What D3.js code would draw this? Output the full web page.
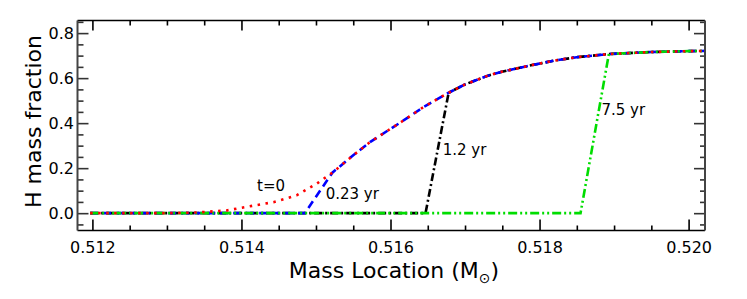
<!DOCTYPE html>
<html>
<head>
<meta charset="utf-8">
<script src="https://cdn.jsdelivr.net/npm/d3@7"></script>
<style>
  body { margin: 0; background: #fff; }
  svg text { font-family: "DejaVu Sans", sans-serif; }
</style>
</head>
<body>
<div id="chart"></div>
<script>
// H mass fraction profiles vs mass location
var t0Mass = [0.51197, 0.5130, 0.5134, 0.5138, 0.51405, 0.51443, 0.51474, 0.51501, 0.51522];
var t0H    = [0.0,     0.0,    0.003,  0.012,  0.027,   0.049,   0.079,   0.131,   0.18];

// common upper profile shared by all epochs once the front has passed
var mainMass = [0.51522, 0.5155, 0.51573, 0.51618, 0.51645, 0.51678, 0.5170, 0.5173, 0.51748, 0.5179, 0.5182, 0.5185, 0.51893, 0.5195, 0.5200, 0.52023];
var mainH    = [0.18,    0.257,  0.317,   0.413,   0.473,   0.535,   0.572,  0.610,  0.627,   0.658,  0.678,  0.693,  0.707,   0.716,  0.720,  0.721];

var blueMass  = [0.51197, 0.51485, 0.51522];
var blueH     = [0.0,     0.0,     0.18];
var blackMass = [0.51197, 0.51647, 0.51678];
var blackH    = [0.0,     0.0,     0.535];
var greenMass = [0.51197, 0.51855, 0.51893];
var greenH    = [0.0,     0.0,     0.707];

var xMajor = [0.512, 0.514, 0.516, 0.518, 0.520];
var yMajor = [0.0, 0.2, 0.4, 0.6, 0.8];

var labels = [
  {text: "t=0",     m: 0.51421, h: 0.100},
  {text: "0.23 yr", m: 0.51513, h: 0.062},
  {text: "1.2 yr",  m: 0.51670, h: 0.258},
  {text: "7.5 yr",  m: 0.51883, h: 0.436}
];

var width = 747, height = 299;
var plotLeft = 77.5, plotRight = 705, plotTop = 20.5, plotBottom = 230.5;

var x = d3.scaleLinear().domain([0.5118, 0.52022]).range([plotLeft, plotRight]);
var y = d3.scaleLinear().domain([-0.077, 0.856]).range([plotBottom, plotTop]);

var svg = d3.select("#chart").append("svg")
    .attr("width", width).attr("height", height);

function zip(ms, hs) { return ms.map((m, i) => [m, hs[i]]); }
function withMain(ms, hs) {
    var last = ms[ms.length - 1];
    return zip(ms, hs).concat(zip(mainMass, mainH).filter(d => d[0] > last));
}

var series = [
  {data: withMain(blackMass, blackH), color: "#000000", dash: "8,3,2,3"},
  {data: withMain(blueMass, blueH),   color: "#0000ff", dash: "8,5"},
  {data: withMain(greenMass, greenH), color: "#00dd00", dash: "9,3,2,3,2,3"},
  {data: withMain(t0Mass, t0H),       color: "#ff0000", dash: "2.5,5.5"}
];

var line = d3.line().x(d => x(d[0])).y(d => y(d[1]));

svg.append("g").selectAll("path").data(series).enter().append("path")
    .attr("d", d => line(d.data))
    .attr("fill", "none")
    .attr("stroke", d => d.color)
    .attr("stroke-width", 2.6)
    .attr("stroke-dasharray", d => d.dash);

// minor ticks
var xMinor = d3.range(0.512, 0.52021, 0.0005).filter(v => xMajor.every(m => Math.abs(m - v) > 1e-6));
var yMinor = d3.range(-0.05, 0.851, 0.05).filter(v => yMajor.every(m => Math.abs(m - v) > 1e-6));

function styleAxis(g, col) {
    g.attr("font-size", 16).attr("font-family", "DejaVu Sans, sans-serif");
    g.select(".domain").remove();
    g.selectAll(".tick line").attr("stroke", col).attr("stroke-width", 1.6);
    g.selectAll(".tick text").attr("fill", "#000").attr("font-size", 16);
}

svg.append("g").attr("transform", "translate(0," + plotBottom + ")")
    .call(d3.axisBottom(x).tickValues(xMajor).tickSize(-11).tickPadding(11).tickFormat(d3.format(".3f")))
    .call(g => styleAxis(g, "#000"));
svg.append("g").attr("transform", "translate(0," + plotBottom + ")")
    .call(d3.axisBottom(x).tickValues(xMinor).tickSize(-5).tickFormat(""))
    .call(g => styleAxis(g, "#000"));
svg.append("g").attr("transform", "translate(0," + plotTop + ")")
    .call(d3.axisTop(x).tickValues(xMajor).tickSize(-10).tickFormat(""))
    .call(g => styleAxis(g, "#000"));
svg.append("g").attr("transform", "translate(0," + plotTop + ")")
    .call(d3.axisTop(x).tickValues(xMinor).tickSize(-5).tickFormat(""))
    .call(g => styleAxis(g, "#000"));

svg.append("g").attr("transform", "translate(" + plotLeft + ",0)")
    .call(d3.axisLeft(y).tickValues(yMajor).tickSize(-11).tickPadding(3.5).tickFormat(d3.format(".1f")))
    .call(g => styleAxis(g, "#333"));
svg.append("g").attr("transform", "translate(" + plotLeft + ",0)")
    .call(d3.axisLeft(y).tickValues(yMinor).tickSize(-6).tickFormat(""))
    .call(g => styleAxis(g, "#333"));
svg.append("g").attr("transform", "translate(" + plotRight + ",0)")
    .call(d3.axisRight(y).tickValues(yMajor).tickSize(-11).tickFormat(""))
    .call(g => styleAxis(g, "#333"));
svg.append("g").attr("transform", "translate(" + plotRight + ",0)")
    .call(d3.axisRight(y).tickValues(yMinor).tickSize(-5).tickFormat(""))
    .call(g => styleAxis(g, "#333"));

// frame
svg.append("line").attr("x1", plotLeft).attr("x2", plotRight).attr("y1", plotTop).attr("y2", plotTop)
    .attr("stroke", "#000").attr("stroke-width", 1.6);
svg.append("line").attr("x1", plotLeft).attr("x2", plotRight).attr("y1", plotBottom).attr("y2", plotBottom)
    .attr("stroke", "#000").attr("stroke-width", 1.6);
svg.append("line").attr("x1", plotLeft).attr("x2", plotLeft).attr("y1", plotTop).attr("y2", plotBottom)
    .attr("stroke", "#444").attr("stroke-width", 2);
svg.append("line").attr("x1", plotRight).attr("x2", plotRight).attr("y1", plotTop).attr("y2", plotBottom)
    .attr("stroke", "#444").attr("stroke-width", 2);

// curve labels
svg.append("g").selectAll("text").data(labels).enter().append("text")
    .attr("x", d => x(d.m)).attr("y", d => y(d.h))
    .style("font-size", "15px")
    .text(d => d.text);

// axis titles
var xt = svg.append("text")
    .attr("x", 394).attr("y", 278)
    .attr("text-anchor", "middle")
    .style("font-size", "22px");
xt.append("tspan").text("Mass Location (M");
xt.append("tspan").attr("dy", 5).style("font-size", "14px").text("\u2299");
xt.append("tspan").attr("dy", -5).text(")");

svg.append("text")
    .attr("transform", "translate(41,121.5) rotate(-90)")
    .attr("text-anchor", "middle")
    .style("font-size", "22px")
    .text("H mass fraction");
</script>
</body>
</html>
